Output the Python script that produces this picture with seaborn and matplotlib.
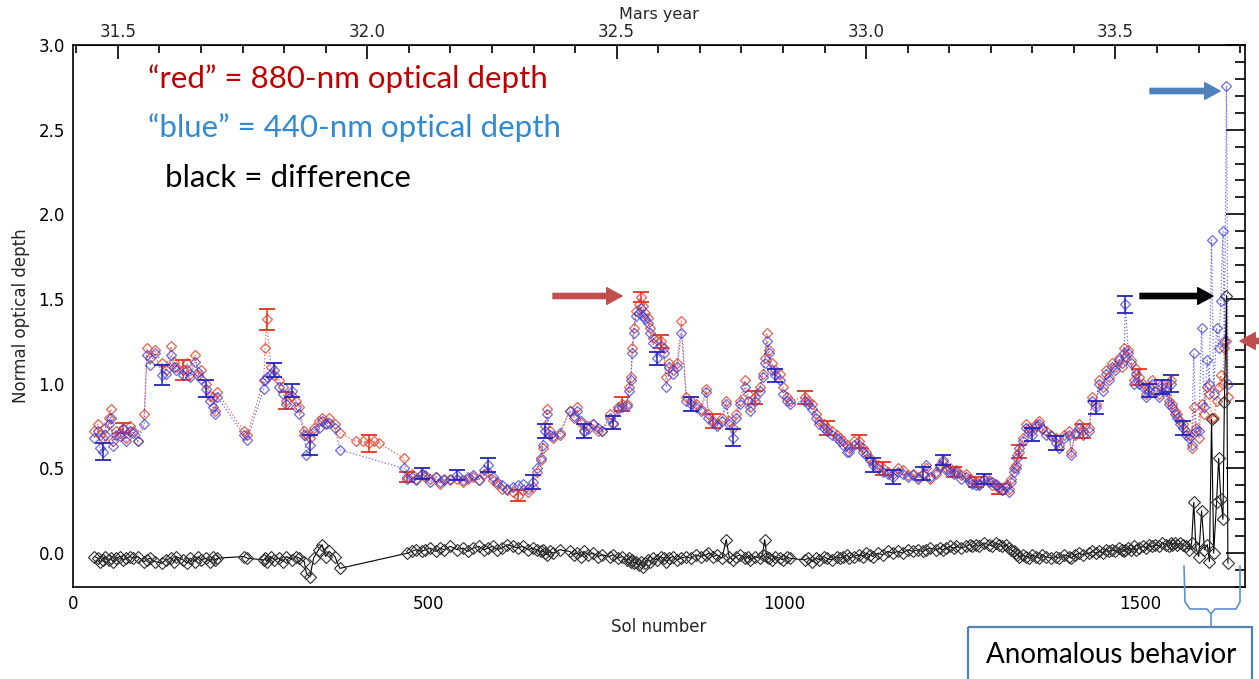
import numpy as np
import pandas as pd
import matplotlib
matplotlib.use("Agg")
import matplotlib.pyplot as plt
import seaborn as sns
from matplotlib.ticker import MultipleLocator, FormatStrFormatter, FixedLocator
from matplotlib.patches import Rectangle

nan = np.nan

# ---------------- data ----------------
sol = [30, 35, 38, 42, 45, 50, 53, 56, 60, 66, 70, 75, 80, 84, 91,
       100, 104, 108, 115, 125, 130, 138, 142, 145, 155, 160, 165, 172, 176, 180,
       187, 193, 197, 200, 203, 240, 245, 268, 270, 272, 278, 283, 290, 295, 300,
       308, 313, 318, 325, 328, 333, 338, 345, 350, 355, 360, 368, 375,
       397, 408, 416, 423, 430, 465,
       470, 476, 482, 490, 495, 502, 510, 516, 522, 530, 540, 548, 555, 562, 570,
       578, 583, 590, 596, 603, 610, 618, 625, 632, 640, 646, 652, 657, 660, 663,
       666, 670, 675, 684, 698, 704, 708, 714, 718, 724, 731, 738, 744, 754, 759,
       766, 772, 778, 781, 784, 786, 788, 791, 795, 798, 801, 804, 808, 811, 815,
       820, 826, 830, 834, 838, 843, 849, 855, 862, 868, 875, 882, 890, 893, 900,
       905, 912, 918, 922, 927, 932, 937, 944, 948, 951, 958, 965, 969, 972, 975,
       978, 982, 986, 993, 998, 1003, 1007,
       1028, 1033, 1039, 1044, 1049, 1055, 1059, 1066, 1073, 1078, 1082, 1088, 1091, 1097, 1105,
       1110, 1115, 1120, 1124, 1131, 1138, 1145, 1152, 1159, 1166, 1173, 1180, 1187, 1194, 1199,
       1204, 1213, 1218, 1222, 1227, 1232, 1238, 1241, 1248, 1255, 1260, 1264, 1269, 1273, 1280,
       1287, 1292, 1297, 1302, 1306, 1311, 1315, 1318, 1322, 1325, 1327, 1330, 1335, 1339, 1344,
       1348, 1353, 1358, 1362, 1367, 1374, 1381, 1386, 1392, 1400, 1403, 1408, 1414, 1420, 1428,
       1432, 1437, 1442, 1447, 1452, 1456, 1460, 1465, 1470, 1474, 1477, 1479, 1483, 1487, 1491,
       1494, 1498, 1503, 1508, 1512, 1516, 1521, 1526, 1531, 1536, 1540, 1543, 1544, 1548, 1552,
       1556, 1560, 1564, 1568, 1572, 1575, 1578, 1582, 1586, 1590, 1594, 1597, 1600, 1603, 1607,
       1610, 1613, 1616, 1618, 1621, 1623]

red = [.72, .76, .70, .68, .74, .80, .85, .66, .72, .71, .74, .68, .75, .72, .66,
       .82, 1.21, 1.15, 1.20, 1.12, 1.08, 1.22, 1.13, 1.10, 1.08, 1.12, 1.06, 1.17, 1.05, 1.08,
       1.00, .93, .92, .84, .95, .72, .70, 1.02, 1.21, 1.38, 1.10, 1.05, 1.02, .98, .90,
       .93, .90, .86, .72, .70, .68, .74, .78, .80, .77, .80, .76, .71,
       .66, .66, .65, .66, .65, .56,
       .45, .47, .44, .47, .45, .44, .45, .41, .44, .43, .44, .42, .44, .45, .43,
       .47, .48, .43, .41, .38, .37, .36, .34, .37, .36, .39, .48, .55, .62, .75,
       .85, .72, .68, .70, .84, .80, .86, .77, .72, .75, .76, .72, .72, .82, .76,
       .86, .88, .88, .98, 1.04, 1.21, 1.33, 1.43, 1.47, 1.51, 1.46, 1.42, 1.39, 1.33, 1.27,
       1.26, 1.25, 1.21, 1.04, 1.12, 1.08, 1.12, 1.37, .92, .90, .88, .85, .97, .82, .78,
       .76, .80, .90, .78, .74, .82, .90, 1.02, .94, .86, .92, .98, 1.06, 1.15, 1.30,
       1.20, 1.12, 1.08, 1.06, .98, .92, .90,
       .92, .90, .88, .82, .78, .76, .74, .72, .70, .68, .66, .64, .62, .66, .66,
       .62, .60, .56, .54, .52, .50, .48, .47, .50, .49, .46, .47, .45, .47, .50,
       .44, .47, .51, .54, .50, .50, .48, .49, .46, .47, .44, .43, .42, .41, .43,
       .43, .40, .41, .38, .37, .40, .38, .44, .50, .52, .58, .60, .68, .76, .74,
       .72, .76, .78, .74, .72, .70, .68, .64, .70, .72, .60, .70, .76, .72, .74,
       .92, .88, 1.02, .98, 1.08, 1.04, 1.12, 1.10, 1.15, 1.10, 1.21, 1.16, 1.20, 1.14, 1.02,
       1.09, 1.04, 1.00, .94, .98, 1.02, .96, .94, 1.00, .98, .90, 1.02, .88, .84, .82,
       .78, .76, .72, .70, .62, .86, .74, .68, .88, .82, .98, .94, .80, .80, .90,
       .98, 1.05, 1.00, 1.21, 1.25, .92]

blue = [.68, .72, .62, .60, .70, .76, .80, .63, .70, .69, .73, .66, .72, .71, .66,
        .76, 1.17, 1.11, 1.18, 1.05, 1.06, 1.17, 1.10, 1.08, 1.05, 1.08, 1.04, 1.13, 1.07, 1.03,
        .97, .90, .86, .82, .92, .70, .67, .97, 1.02, 1.04, 1.06, 1.08, .98, .94, .88,
        .96, .86, .82, .70, .58, .64, .72, .74, .78, .76, .77, .74, .61,
        nan, nan, nan, nan, nan, .50,
        .44, .45, .43, .47, .46, .42, .45, .42, .43, .44, .46, .43, .45, .46, .43,
        .49, .52, .45, .42, .40, .38, .39, .40, .41, .38, .42, .50, .56, .64, .72,
        .82, .70, .69, .71, .84, .81, .84, .78, .72, .73, .76, .74, .72, .80, .77,
        .85, .86, .87, .96, 1.02, 1.18, 1.30, 1.40, 1.42, 1.45, 1.40, 1.38, 1.36, 1.30, 1.24,
        1.15, 1.22, 1.18, .98, 1.10, 1.06, 1.10, 1.30, .90, .88, .86, .84, .95, .80, .77,
        .75, .78, .88, .76, .68, .80, .88, .98, .90, .84, .90, .96, 1.04, 1.12, 1.25,
        1.18, 1.08, 1.05, 1.02, .94, .90, .88,
        .90, .88, .85, .80, .76, .74, .72, .70, .68, .66, .64, .60, .60, .64, .64,
        .60, .58, .55, .52, .50, .48, .47, .45, .48, .47, .45, .46, .44, .47, .52,
        .45, .48, .52, .55, .49, .48, .47, .48, .44, .45, .42, .41, .40, .40, .44,
        .42, .42, .40, .39, .37, .39, .36, .42, .48, .50, .56, .62, .66, .74, .72,
        .70, .75, .76, .73, .70, .69, .65, .62, .68, .70, .58, .71, .74, .70, .72,
        .90, .86, 1.00, .96, 1.06, 1.02, 1.10, 1.08, 1.14, 1.12, 1.18, 1.47, 1.18, 1.12, 1.00,
        1.06, 1.00, .98, .92, .96, 1.00, .95, .92, .98, .96, .88, 1.00, .86, .82, .80,
        .76, .74, .70, .68, .64, 1.18, .72, .72, 1.33, .86, 1.14, 1.00, 1.85, .94, 1.33,
        1.21, 1.49, 1.90, 1.25, 2.76, 1.00]

diff = [-.02, -.03, -.05, -.04, -.02, -.04, -.03, -.05, -.03, -.02, -.04, -.03, -.02, -.03, -.02,
        -.05, -.04, -.03, -.05, -.06, -.04, -.03, -.05, -.02, -.04, -.06, -.03, -.05, -.02, -.04,
        -.03, -.05, -.02, -.04, -.03, -.02, -.03, -.04, -.03, -.05, -.02, -.04, -.03, -.05, -.02,
        -.04, -.02, -.03, -.05, -.12, -.14, -.03, .02, .05, -.02, .01, -.02, -.09,
        nan, nan, nan, nan, nan, nan,
        .00, .01, .02, .01, .02, .03, .01, .03, .02, .04, .02, .03, .01, .03, .04,
        .02, .03, .04, .02, .03, .05, .04, .03, .04, .02, .03, .02, .01, .02, .00,
        -.01, .01, .00, .02, .01, -.01, .00, -.02, .01, -.01, .00, -.02, -.01, -.02, -.01,
        -.03, -.02, -.04, -.03, -.05, -.04, -.06, -.05, -.07, -.05, -.08, -.06, -.04, -.05, -.03,
        -.04, -.02, -.03, -.05, -.03, -.02, -.04, -.03, -.02, -.03, -.01, -.02, -.01, .00, -.02,
        -.01, -.03, .08, -.02, -.04, -.02, -.01, -.03, -.02, -.04, -.02, -.03, -.01, .08, -.02,
        -.03, -.04, -.02, -.03, -.04, -.02, -.03,
        -.04, -.03, -.05, -.03, -.04, -.02, -.03, -.04, -.02, -.03, -.02, -.01, -.03, -.02, -.01,
        -.02, .00, -.01, -.02, .00, -.01, .01, .00, .01, .00, .02, .01, .02, .01, .02,
        .03, .02, .03, .02, .03, .04, .03, .04, .03, .04, .05, .04, .05, .04, .06,
        .05, .04, .06, .05, .04, .05, .03, .02, .01, .00, -.01, -.02, -.01, -.02, -.03,
        -.01, -.02, -.03, -.01, -.02, -.03, -.02, -.03, -.01, -.02, -.03, -.01, .00, -.01, .00,
        .01, .00, .01, .00, .02, .01, .02, .01, .03, .02, .01, .02, .03, .02, .04,
        .02, .03, .04, .03, .05, .04, .05, .04, .06, .05, .04, .06, .05, .06, .05,
        .06, .05, .04, .02, .06, .30, .03, -.02, .25, .02, .05, -.05, .79, .00, .30,
        .56, .32, .20, .89, 1.52, -.06]

red_err_pts = {70: .03, 155: .06, 272: .06, 300: .05, 416: .05, 470: .03, 625: .03, 772: .04,
               798: .03, 826: .04, 900: .04, 958: .04, 1028: .04, 1059: .04, 1105: .04, 1138: .04,
               1238: .03, 1269: .03, 1302: .03, 1330: .04, 1420: .04, 1498: .05}
blue_err_pts = {42: .05, 125: .06, 187: .05, 283: .04, 308: .04, 333: .06, 490: .03, 540: .03,
                583: .04, 646: .04, 663: .04, 718: .04, 759: .04, 820: .04, 868: .04, 927: .05,
                986: .04, 1124: .04, 1152: .04, 1194: .04, 1222: .03, 1280: .03, 1348: .04,
                1381: .04, 1437: .04, 1479: .05, 1512: .04, 1531: .04, 1543: .05, 1560: .04}

mars_year_ticks = [31.5, 32.0, 32.5, 33.0, 33.5]

# ---------------- figure ----------------
sns.set_style("white")
plt.rcParams["font.family"] = ["DejaVu Sans"]

W, H = 1259, 679
fig = plt.figure(figsize=(W / 100, H / 100), dpi=100)
ax = fig.add_axes([73 / W, (H - 587) / H, (1245 - 73) / W, (587 - 45) / H])

df = pd.DataFrame(dict(sol=sol, red=red, blue=blue, diff=diff))
df["red_err"] = [red_err_pts.get(s, 0) for s in sol]
df["blue_err"] = [blue_err_pts.get(s, 0) for s in sol]

RED = "#e4452e"
BLUE = "#3c3cd8"
RED_EB = "#e8321e"
BLUE_EB = "#2424b8"

r = df.dropna(subset=["red"])
sns.lineplot(data=r, x="sol", y="red", ax=ax, estimator=None, sort=False,
             color=RED, lw=0.9, linestyle=":", marker="D", markersize=5,
             markerfacecolor="none", markeredgecolor=RED, markeredgewidth=0.9,
             alpha=0.85, zorder=3)
re_ = r[r.red_err > 0]
ax.errorbar(re_.sol, re_.red, yerr=re_.red_err, fmt="none", ecolor=RED_EB,
            elinewidth=1.1, capsize=6, capthick=1.3, zorder=3)

b = df.dropna(subset=["blue"])
sns.lineplot(data=b, x="sol", y="blue", ax=ax, estimator=None, sort=False,
             color=BLUE, lw=0.9, linestyle=":", marker="D", markersize=5,
             markerfacecolor="none", markeredgecolor=BLUE, markeredgewidth=0.9,
             alpha=0.75, zorder=4)
be_ = b[b.blue_err > 0]
ax.errorbar(be_.sol, be_.blue, yerr=be_.blue_err, fmt="none", ecolor=BLUE_EB,
            elinewidth=1.1, capsize=6, capthick=1.3, zorder=4)

d = df.dropna(subset=["diff"])
sns.lineplot(data=d, x="sol", y="diff", ax=ax, estimator=None, sort=False,
             color="black", lw=0.8, marker="D", markersize=6,
             markerfacecolor="none", markeredgecolor="#303030", markeredgewidth=0.8,
             zorder=5)

TICK_FS = 12
ax.set_xlim(0, 1647)
ax.set_ylim(-0.2, 3.0)
ax.xaxis.set_major_locator(MultipleLocator(500))
ax.xaxis.set_minor_locator(MultipleLocator(100))
ax.yaxis.set_major_locator(MultipleLocator(0.5))
ax.yaxis.set_minor_locator(MultipleLocator(0.1))
ax.yaxis.set_major_formatter(FormatStrFormatter("%.1f"))
ax.tick_params(which="both", direction="in", right=True, top=False,
               color="black", width=1.2, labelsize=TICK_FS, labelcolor="black")
ax.tick_params(which="major", length=14)
ax.tick_params(which="minor", length=7)
ax.tick_params(axis="x", pad=6)
ax.tick_params(axis="y", pad=6)
for s in ax.spines.values():
    s.set_color("black")
    s.set_linewidth(1.2)
ax.set_xlabel("Sol number", fontsize=TICK_FS, labelpad=3)
ax.set_ylabel("Normal optical depth", fontsize=TICK_FS, labelpad=6)
ax.grid(False)

SOL_AT_31_5 = 63.0
SOLS_PER_MY = 701.0


def sol2my(s):
    return 31.5 + (np.asarray(s, dtype=float) - SOL_AT_31_5) / SOLS_PER_MY


def my2sol(m):
    return SOL_AT_31_5 + (np.asarray(m, dtype=float) - 31.5) * SOLS_PER_MY


sec = ax.secondary_xaxis("top", functions=(sol2my, my2sol))
sec.xaxis.set_major_locator(FixedLocator(mars_year_ticks))
sec.xaxis.set_minor_locator(FixedLocator(
    [m + k * 0.5 / 6 for m in [31.0] + mars_year_ticks for k in range(1, 6)]))
sec.xaxis.set_major_formatter(FormatStrFormatter("%.1f"))
sec.tick_params(which="both", direction="in", color="black", width=1.2,
                labelsize=TICK_FS, pad=3)
sec.tick_params(which="major", length=10)
sec.tick_params(which="minor", length=6)
sec.set_xlabel("Mars year", fontsize=11.5, labelpad=3)

# ---------------- overlay annotations (pixel coordinates) ----------------
ov = fig.add_axes([0, 0, 1, 1], zorder=10)
ov.set_xlim(0, W)
ov.set_ylim(H, 0)
ov.axis("off")
ov.patch.set_alpha(0)

LEG = ["Lato", "DejaVu Sans"]
ov.text(148, 79, "\u201cred\u201d = 880-nm optical depth", color="#c00000",
        fontsize=22.5, va="center", ha="left", family=LEG)
ov.text(148, 128, "\u201cblue\u201d = 440-nm optical depth", color="#2e8ad6",
        fontsize=22.5, va="center", ha="left", family=LEG)
ov.text(165, 178, "black = difference", color="black",
        fontsize=22.5, va="center", ha="left", family=LEG)

arrow_style = "simple,head_width=1.2,head_length=1.1,tail_width=0.38"
for (x0, x1, y, c) in [(553, 622, 296, "#c0504d"), (1150, 1220, 91, "#4f81bd"),
                       (1140, 1213, 296, "black"), (1262, 1240, 341, "#c0504d")]:
    ov.annotate("", xy=(x1, y), xytext=(x0, y),
                arrowprops=dict(arrowstyle=arrow_style, color=c, mutation_scale=10,
                                shrinkA=0, shrinkB=0))

BR = "#5b8fd0"
ov.plot([1184, 1185, 1190, 1207, 1211, 1211], [566, 602, 609, 609, 614, 627], color=BR, lw=1.2)
ov.plot([1240, 1240, 1236, 1215, 1211], [566, 602, 609, 609, 614], color=BR, lw=1.2)
ov.add_patch(Rectangle((968, 627), 284, 60, fill=False, edgecolor="#4f81bd", lw=1.6))
ov.text(1111, 655, "Anomalous behavior", fontsize=20, ha="center", va="center",
        family=LEG, color="black")

fig.savefig("out.png", dpi=100)
